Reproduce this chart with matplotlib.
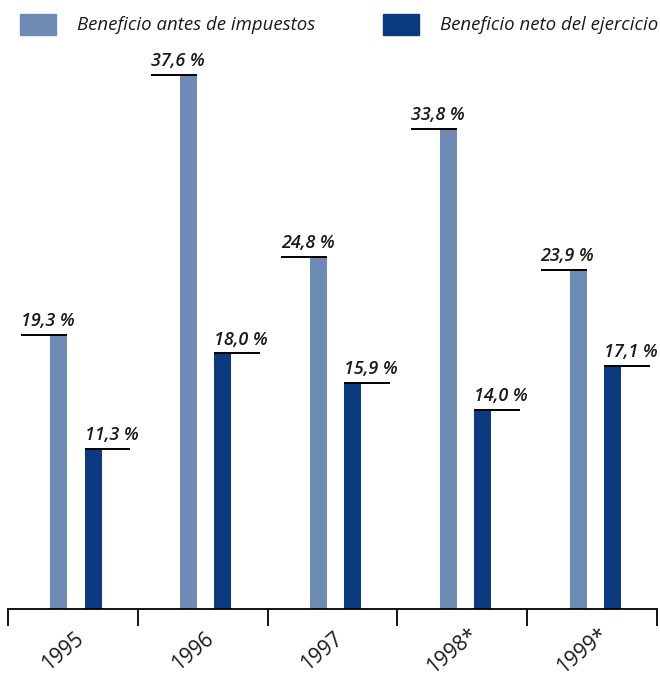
import matplotlib
matplotlib.use("Agg")
import matplotlib.pyplot as plt
from matplotlib.patches import Rectangle
from matplotlib.transforms import blended_transform_factory, ScaledTranslation

years = ["1995", "1996", "1997", "1998*", "1999*"]
antes_impuestos = [19.3, 37.6, 24.8, 33.8, 23.9]
neto_ejercicio = [11.3, 18.0, 15.9, 14.0, 17.1]
series_names = ["Beneficio antes de impuestos", "Beneficio neto del ejercicio"]

LIGHT = "#6D8BB5"
DARK = "#0B3A80"
TEXT = "#1a1a1a"
FONT = "Open Sans"

W, H = 660, 681
fig = plt.figure(figsize=(W / 100, H / 100), dpi=100)
ax = fig.add_axes([8 / W, (H - 609) / H, (657 - 8) / W, (609 - 50) / H])

px_per_unit = 14.2
ax.set_xlim(0, len(years))
ax.set_ylim(0, (609 - 50) / px_per_unit)

bar_w = 0.131
off_light = 0.392
off_dark = 0.655
line_len = 0.354

def label_value(x0, x1, v, text_x):
    ax.plot([x0, x1], [v, v], color="black", lw=1.4, solid_capstyle="butt",
            clip_on=False, zorder=3)
    ax.annotate(f"{v:.1f} %".replace(".", ","), (text_x, v), xytext=(0, 3.5),
                textcoords="offset points", ha="left", va="bottom",
                fontsize=13, fontstyle="italic", fontweight="semibold",
                fontfamily=FONT, color=TEXT, annotation_clip=False)

for i, (a, n) in enumerate(zip(antes_impuestos, neto_ejercicio)):
    xl = i + off_light
    xd = i + off_dark
    ax.bar(xl, a, width=bar_w, color=LIGHT, clip_on=False, zorder=2)
    ax.bar(xd, n, width=bar_w, color=DARK, clip_on=False, zorder=2)
    right_l = xl + bar_w / 2
    label_value(right_l - line_len, right_l, a, right_l - line_len)
    left_d = xd - bar_w / 2
    label_value(left_d, left_d + line_len, n, left_d)

for s in ["top", "right", "left"]:
    ax.spines[s].set_visible(False)
ax.spines["bottom"].set_linewidth(1.3)
ax.set_yticks([])
ax.set_xticks(range(len(years) + 1))
ax.set_xticklabels([])
ax.tick_params(axis="x", which="major", length=12.2, width=1.3, direction="out")

# rotated year labels below each category
trans = blended_transform_factory(ax.transData, ax.transAxes) + \
    ScaledTranslation(0, -42 / 100, fig.dpi_scale_trans)
for i, yr in enumerate(years):
    ax.text(i + 0.42, 0, yr, transform=trans, rotation=40, rotation_mode="anchor",
            ha="center", va="center", fontsize=15, fontweight="medium",
            fontfamily=FONT, color=TEXT, clip_on=False)

# legend
for (sx, color, name) in [(20, LIGHT, series_names[0]), (383, DARK, series_names[1])]:
    fig.patches.append(Rectangle((sx / W, (H - 35) / H), 36 / W, 21 / H,
                                 transform=fig.transFigure, color=color))
    fig.text((sx + 57) / W, (H - 25) / H, name, ha="left", va="center",
             fontsize=13.4, fontstyle="italic", fontfamily=FONT, color=TEXT)

fig.savefig("out.png", dpi=100)
